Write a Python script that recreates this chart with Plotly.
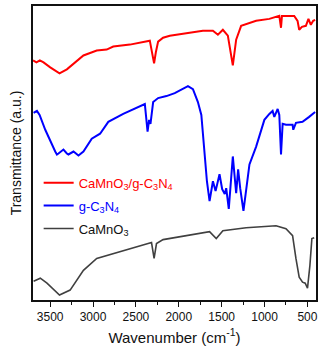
import plotly.graph_objects as go

# wavenumber (cm-1) / transmittance (a.u., stacked)
wn_composite = [3700, 3660, 3620, 3577, 3499, 3391, 3305, 3112, 2957, 2841, 2764, 2570, 2338,
                2288, 2268, 2241, 2183, 2105, 1719, 1602, 1544, 1486, 1428, 1370, 1331, 1273,
                1098, 944, 828, 808, 797, 654, 615, 596, 564, 518, 488, 460, 433, 410]
t_composite = [242, 240, 242, 240, 235, 229, 233, 247, 252, 253, 256, 258, 262,
               239, 250, 261, 265, 267, 272, 272, 268, 273, 267, 237, 263, 277,
               282, 284, 287, 275, 287, 287, 282, 273, 276, 277, 284, 278, 282, 283]

wn_gcn = [3693, 3654, 3623, 3557, 3441, 3421, 3403, 3345, 3305, 3287, 3228, 3170, 3112,
          3015, 2918, 2822, 2648, 2396, 2364, 2346, 2330, 2299, 2241, 2144, 2047, 1893,
          1835, 1777, 1737, 1699, 1672, 1641, 1602, 1571, 1525, 1494, 1464, 1447, 1417,
          1370, 1331, 1308, 1284, 1246, 1215, 1176, 1098, 1002, 944, 906, 886, 847, 828,
          808, 789, 750, 673, 665, 634, 557, 480, 410]
t_gcn = [189, 191, 187, 172, 150, 147, 148, 152, 148, 147, 150, 146, 150,
         163, 168, 180, 188, 198, 170, 182, 178, 200, 204, 206, 209, 216,
         213, 200, 187, 147, 120, 100, 120, 110, 127, 112, 107, 113, 92,
         145, 108, 132, 113, 90, 113, 137, 155, 182, 188, 191, 185, 193, 187,
         147, 178, 177, 177, 172, 179, 180, 185, 190]

wn_camno3 = [3693, 3615, 3537, 3391, 3267, 3112, 2957, 2724, 2454, 2318, 2288, 2260, 2183,
             1989, 1641, 1563, 1486, 1215, 866, 750, 673, 634, 596, 557, 526, 499, 471,
             448, 421]
t_camno3 = [19, 22, 17, 5, 10, 30, 42, 48, 55, 58, 42, 57, 61,
            64, 69, 62, 70, 73, 75, 72, 65, 42, 23, 18, 17, 12, 35,
            62, 63]

fig = go.Figure()
fig.add_trace(go.Scatter(
    x=wn_composite, y=t_composite, mode='lines', line=dict(color='#ff0000', width=2),
    legendgroup='a',
    name='<span style="color:#ff0000">CaMnO<sub>3</sub>/g-C<sub>3</sub>N<sub>4</sub></span>'))
fig.add_trace(go.Scatter(
    x=wn_gcn, y=t_gcn, mode='lines', line=dict(color='#0000ff', width=2),
    legendgroup='b',
    name='<span style="color:#0000ff">g-C<sub>3</sub>N<sub>4</sub></span>'))
fig.add_trace(go.Scatter(
    x=wn_camno3, y=t_camno3, mode='lines', line=dict(color='#404040', width=1.6),
    legendgroup='c',
    name='CaMnO<sub>3</sub>'))

fig.update_layout(
    width=322, height=349,
    margin=dict(l=33, r=5, t=4, b=49),
    paper_bgcolor='white', plot_bgcolor='white',
    font=dict(family='Liberation Sans, Arial', size=12, color='#111'),
    legend=dict(x=0.02, y=0.45, xanchor='left', yanchor='top', traceorder='grouped',
                bgcolor='rgba(0,0,0,0)', font=dict(size=13), tracegroupgap=3),
)
fig.update_xaxes(
    range=[3700, 400], tickvals=[3500, 3000, 2500, 2000, 1500, 1000, 500],
    ticks='outside', ticklen=5, tickwidth=1.2, tickcolor='#111',
    minor=dict(dtick=250, tick0=500, ticks='outside', ticklen=3, tickcolor='#111'),
    showline=True, linecolor='#111', linewidth=1.5, mirror=True, showgrid=False, zeroline=False,
    title=dict(text='Wavenumber (cm<sup>-1</sup>)', font=dict(size=15), standoff=9),
    tickfont=dict(size=12))
fig.update_yaxes(
    range=[0, 297], showticklabels=False, ticks='',
    showline=True, linecolor='#111', linewidth=1.5, mirror=True, showgrid=False, zeroline=False,
    title=dict(text='Transmittance (a.u.)', font=dict(size=14), standoff=6))

fig.write_html("out.html", config={'displayModeBar': False},
               post_script="document.body.style.margin='0';")
